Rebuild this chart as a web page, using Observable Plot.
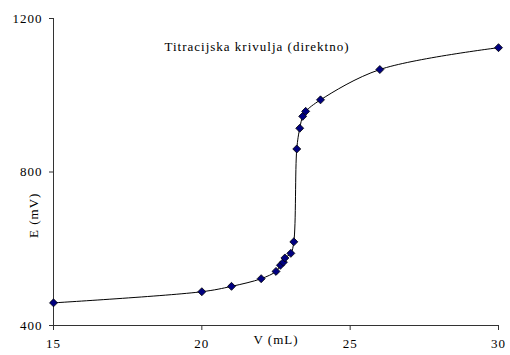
<!DOCTYPE html>
<html>
<head>
<meta charset="utf-8">
<script src="https://cdn.jsdelivr.net/npm/d3@7"></script>
<script src="https://cdn.jsdelivr.net/npm/@observablehq/plot@0.6"></script>
<style>
  html, body { margin: 0; padding: 0; background: #fff; }
  #chart svg { display: block; }
</style>
</head>
<body>
<div id="chart"></div>
<script>
const volume = [15, 20, 21, 22, 22.5, 22.65, 22.75, 22.8, 23.0, 23.1, 23.2, 23.3, 23.4, 23.5, 24, 26, 30];
const potential = [459, 488, 502, 522, 541, 557, 565, 576, 588, 618, 860, 914, 945, 958, 988, 1067, 1124];
const xTicks = [15, 20, 25, 30];
const yTicks = [400, 800, 1200];
const title = "Titracijska krivulja (direktno)";
const xLabel = "V (mL)";
const yLabel = "E (mV)";

const data = volume.map((v, i) => ({v, e: potential[i]}));
const font = "Liberation Serif, Times New Roman, serif";

const chart = Plot.plot({
  width: 510,
  height: 355,
  marginLeft: 53,
  marginRight: 12,
  marginTop: 18,
  marginBottom: 30,
  style: {fontFamily: font, fontSize: "13px", letterSpacing: "1px", background: "#fff", color: "#000"},
  x: {domain: [15, 30]},
  y: {domain: [400, 1200]},
  marks: [
    Plot.ruleX([15], {stroke: "#333"}),
    Plot.ruleY([400], {stroke: "#333"}),
    Plot.axisX({ticks: xTicks, tickSize: 5, tickPadding: 8, tickFormat: "d", label: null, stroke: "#333", fontSize: 13}),
    Plot.axisY({ticks: yTicks, tickSize: 4, tickPadding: 7, tickFormat: "d", label: null, stroke: "#333", fontSize: 13}),
    Plot.line(data, {x: "v", y: "e", curve: "catmull-rom", stroke: "#000", strokeWidth: 1}),
    Plot.dot(data, {x: "v", y: "e", symbol: "diamond2", r: 3.6, fill: "#000080", stroke: "#000", strokeWidth: 0.8}),
    Plot.text([title], {frameAnchor: "top", dx: -19, dy: 23, fontSize: 13}),
    Plot.text([xLabel], {frameAnchor: "bottom", dy: 18, fontSize: 13}),
    Plot.text([yLabel], {frameAnchor: "left", dx: -20, dy: 66, rotate: -90, fontSize: 13})
  ]
});
document.getElementById("chart").appendChild(chart);
</script>
</body>
</html>
